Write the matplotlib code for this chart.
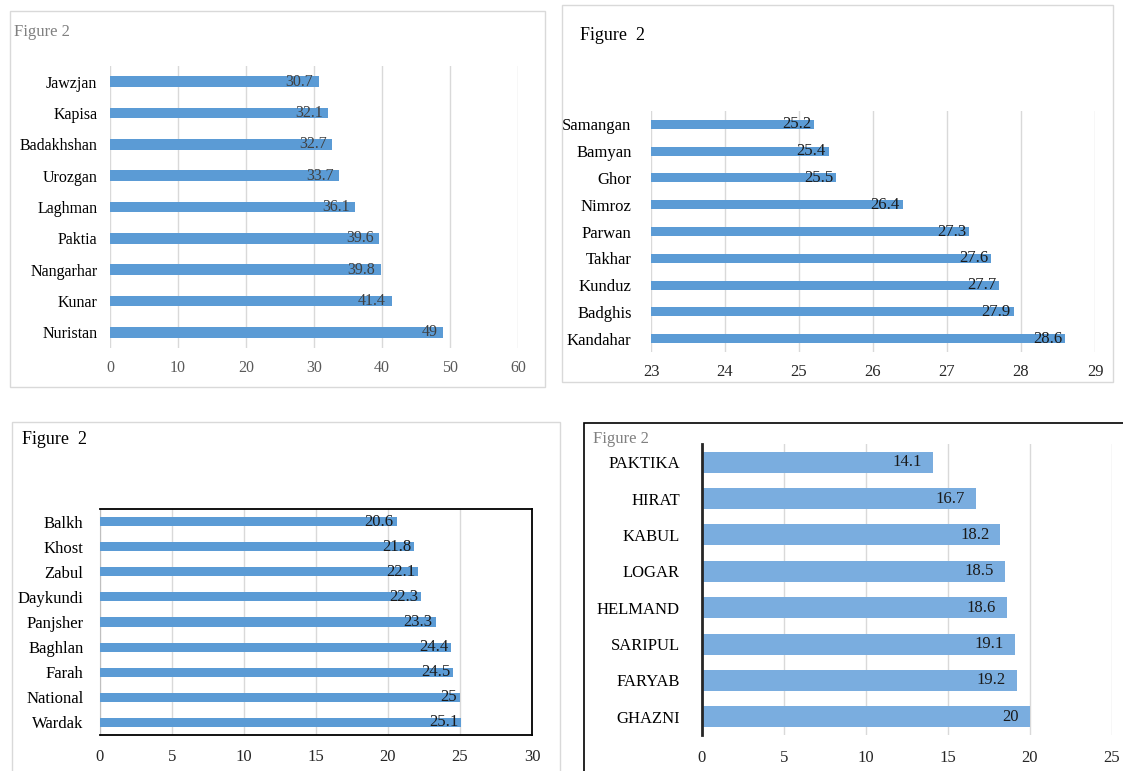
import matplotlib.pyplot as plt
import numpy as np
from matplotlib.patches import Rectangle

plt.rcParams['font.family'] = ['Liberation Serif', 'DejaVu Serif']

# panel 1
prov_a = ["Jawzjan", "Kapisa", "Badakhshan", "Urozgan", "Laghman",
          "Paktia", "Nangarhar", "Kunar", "Nuristan"]
vals_a = [30.7, 32.1, 32.7, 33.7, 36.1, 39.6, 39.8, 41.4, 49]
ticks_a = [0, 10, 20, 30, 40, 50, 60]

# panel 2
prov_b = ["Samangan", "Bamyan", "Ghor", "Nimroz", "Parwan",
          "Takhar", "Kunduz", "Badghis", "Kandahar"]
vals_b = [25.2, 25.4, 25.5, 26.4, 27.3, 27.6, 27.7, 27.9, 28.6]
ticks_b = [23, 24, 25, 26, 27, 28, 29]

# panel 3
prov_c = ["Balkh", "Khost", "Zabul", "Daykundi", "Panjsher",
          "Baghlan", "Farah", "National", "Wardak"]
vals_c = [20.6, 21.8, 22.1, 22.3, 23.3, 24.4, 24.5, 25, 25.1]
ticks_c = [0, 5, 10, 15, 20, 25, 30]

# panel 4
prov_d = ["PAKTIKA", "HIRAT", "KABUL", "LOGAR", "HELMAND",
          "SARIPUL", "FARYAB", "GHAZNI"]
vals_d = [14.1, 16.7, 18.2, 18.5, 18.6, 19.1, 19.2, 20]
ticks_d = [0, 5, 10, 15, 20, 25]

W, H = 1123, 771
fig = plt.figure(figsize=(W / 100, H / 100), dpi=100)


def axes_px(left, top, right, bottom):
    return fig.add_axes([left / W, 1 - bottom / H, (right - left) / W, (bottom - top) / H])


def box_px(left, top, right, bottom, color, lw):
    fig.add_artist(Rectangle((left / W, 1 - bottom / H), (right - left) / W, (bottom - top) / H,
                             transform=fig.transFigure, fill=False, ec=color, lw=lw))


def hbar(ax, names, vals, ticks, height, color, fs, txtcolor, tickcolor, ypad, xpad, lab_off):
    y = np.arange(len(names))
    base = ticks[0]
    # bars start at the left edge of the value axis
    ax.barh(y, np.array(vals) - base, left=base, height=height, color=color, zorder=3)
    ax.set_xlim(ticks[0], ticks[-1])
    ax.set_ylim(len(names) - 0.5, -0.5)
    ax.set_xticks(ticks)
    ax.set_yticks(y)
    ax.set_yticklabels(names, fontsize=fs, color="black")
    ax.tick_params(axis="y", length=0, pad=ypad)
    ax.tick_params(axis="x", length=0, pad=xpad, labelsize=fs, labelcolor=tickcolor)
    ax.grid(axis="x", color="#d9d9d9", lw=1, zorder=0)
    for s in ax.spines.values():
        s.set_visible(False)
    for yi, v in zip(y, vals):
        ax.annotate(f"{v:g}", (v, yi), xytext=(lab_off, 0), textcoords="offset points",
                    ha="right", va="center", fontsize=fs, color=txtcolor, zorder=4)


# top left
box_px(10, 11, 545, 387, "#d9d9d9", 1)
fig.text(14 / W, 1 - 32 / H, "Figure 2", fontsize=12, color="#808080", va="center")
ax1 = axes_px(110, 66, 518, 348)
hbar(ax1, prov_a, vals_a, ticks_a, 0.34, "#5b9bd5", 11.5, "#404040", "#595959", 9, 9, -4)

# top right
box_px(562, 5, 1113, 382, "#d9d9d9", 1)
fig.text(580 / W, 1 - 35 / H, "Figure  2", fontsize=13, color="black", va="center")
ax2 = axes_px(651, 111, 1095, 352)
hbar(ax2, prov_b, vals_b, ticks_b, 0.34, "#5b9bd5", 12, "#1a1a1a", "#262626", 14, 9, -2)

# bottom left
box_px(12, 422, 560, 790, "#d9d9d9", 1)
fig.text(22 / W, 1 - 440 / H, "Figure  2", fontsize=13, color="black", va="center")
ax3 = axes_px(100, 509, 532, 735)
hbar(ax3, prov_c, vals_c, ticks_c, 0.36, "#5b9bd5", 12, "#1a1a1a", "#262626", 12, 10, -2)
for side in ["top", "right", "bottom"]:
    ax3.spines[side].set_visible(True)
    ax3.spines[side].set_color("black")
    ax3.spines[side].set_linewidth(1.3)
ax3.spines["left"].set_visible(True)
ax3.spines["left"].set_color("#bfbfbf")

# bottom right
box_px(584, 423, 1140, 790, "black", 1.2)
fig.text(593 / W, 1 - 439 / H, "Figure 2", fontsize=12, color="#808080", va="center")
ax4 = axes_px(702, 444, 1112, 735)
hbar(ax4, prov_d, vals_d, ticks_d, 0.58, "#7aaddf", 12, "#1a1a1a", "#262626", 16, 11, -8)
ax4.spines["left"].set_visible(True)
ax4.spines["left"].set_color("#262626")
ax4.spines["left"].set_linewidth(2)
ax4.spines["left"].set_zorder(5)

fig.savefig("out.png", dpi=100)
